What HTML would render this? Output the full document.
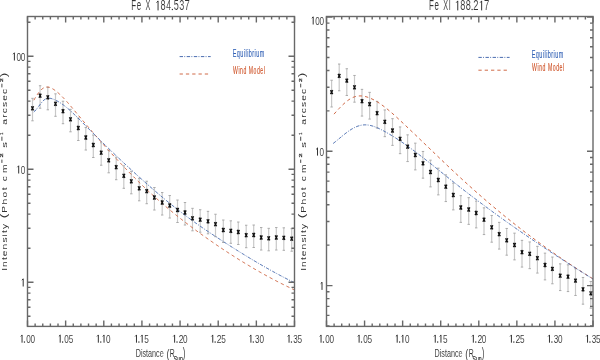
<!DOCTYPE html>
<html><head><meta charset="utf-8"><style>
html,body{margin:0;padding:0;background:#fff;}
svg{display:block;will-change:transform;}
text{font-family:"Liberation Sans",sans-serif;fill:#333;font-kerning:none;}
.xl{stroke:#fff;stroke-width:0.05px;}
.tt{stroke:#fff;stroke-width:0.1px;}
.tl{stroke:#fff;stroke-width:0.08px;}
.lg{stroke-width:0.15px;}
.yls{stroke:#333;stroke-width:0.25px;}
</style></head><body>
<svg width="600" height="360" viewBox="0 0 600 360" xmlns="http://www.w3.org/2000/svg">
<rect width="600" height="360" fill="#fff"/>
<path d="M32.50,98.34 V120.81" stroke="#c8c8c8" stroke-width="1.2" fill="none"/>
<path d="M31.30,98.34 h2.4 M31.30,120.81 h2.4" stroke="#aaaaaa" stroke-width="1" fill="none"/>
<path d="M40.10,85.74 V108.21" stroke="#c8c8c8" stroke-width="1.2" fill="none"/>
<path d="M38.90,85.74 h2.4 M38.90,108.21 h2.4" stroke="#aaaaaa" stroke-width="1" fill="none"/>
<path d="M47.80,87.34 V109.81" stroke="#c8c8c8" stroke-width="1.2" fill="none"/>
<path d="M46.60,87.34 h2.4 M46.60,109.81 h2.4" stroke="#aaaaaa" stroke-width="1" fill="none"/>
<path d="M55.50,93.84 V116.31" stroke="#c8c8c8" stroke-width="1.2" fill="none"/>
<path d="M54.30,93.84 h2.4 M54.30,116.31 h2.4" stroke="#aaaaaa" stroke-width="1" fill="none"/>
<path d="M63.00,101.24 V123.71" stroke="#c8c8c8" stroke-width="1.2" fill="none"/>
<path d="M61.80,101.24 h2.4 M61.80,123.71 h2.4" stroke="#aaaaaa" stroke-width="1" fill="none"/>
<path d="M70.50,109.34 V131.81" stroke="#c8c8c8" stroke-width="1.2" fill="none"/>
<path d="M69.30,109.34 h2.4 M69.30,131.81 h2.4" stroke="#aaaaaa" stroke-width="1" fill="none"/>
<path d="M78.30,118.04 V140.51" stroke="#c8c8c8" stroke-width="1.2" fill="none"/>
<path d="M77.10,118.04 h2.4 M77.10,140.51 h2.4" stroke="#aaaaaa" stroke-width="1" fill="none"/>
<path d="M85.80,127.54 V150.01" stroke="#c8c8c8" stroke-width="1.2" fill="none"/>
<path d="M84.60,127.54 h2.4 M84.60,150.01 h2.4" stroke="#aaaaaa" stroke-width="1" fill="none"/>
<path d="M93.30,135.04 V157.51" stroke="#c8c8c8" stroke-width="1.2" fill="none"/>
<path d="M92.10,135.04 h2.4 M92.10,157.51 h2.4" stroke="#aaaaaa" stroke-width="1" fill="none"/>
<path d="M101.20,142.74 V165.21" stroke="#c8c8c8" stroke-width="1.2" fill="none"/>
<path d="M100.00,142.74 h2.4 M100.00,165.21 h2.4" stroke="#aaaaaa" stroke-width="1" fill="none"/>
<path d="M108.70,150.34 V172.81" stroke="#c8c8c8" stroke-width="1.2" fill="none"/>
<path d="M107.50,150.34 h2.4 M107.50,172.81 h2.4" stroke="#aaaaaa" stroke-width="1" fill="none"/>
<path d="M116.20,157.24 V179.71" stroke="#c8c8c8" stroke-width="1.2" fill="none"/>
<path d="M115.00,157.24 h2.4 M115.00,179.71 h2.4" stroke="#aaaaaa" stroke-width="1" fill="none"/>
<path d="M123.80,165.84 V188.31" stroke="#c8c8c8" stroke-width="1.2" fill="none"/>
<path d="M122.60,165.84 h2.4 M122.60,188.31 h2.4" stroke="#aaaaaa" stroke-width="1" fill="none"/>
<path d="M131.30,171.34 V193.81" stroke="#c8c8c8" stroke-width="1.2" fill="none"/>
<path d="M130.10,171.34 h2.4 M130.10,193.81 h2.4" stroke="#aaaaaa" stroke-width="1" fill="none"/>
<path d="M139.20,178.34 V200.81" stroke="#c8c8c8" stroke-width="1.2" fill="none"/>
<path d="M138.00,178.34 h2.4 M138.00,200.81 h2.4" stroke="#aaaaaa" stroke-width="1" fill="none"/>
<path d="M146.70,181.24 V203.71" stroke="#c8c8c8" stroke-width="1.2" fill="none"/>
<path d="M145.50,181.24 h2.4 M145.50,203.71 h2.4" stroke="#aaaaaa" stroke-width="1" fill="none"/>
<path d="M154.40,187.54 V210.01" stroke="#c8c8c8" stroke-width="1.2" fill="none"/>
<path d="M153.20,187.54 h2.4 M153.20,210.01 h2.4" stroke="#aaaaaa" stroke-width="1" fill="none"/>
<path d="M162.20,192.54 V215.01" stroke="#c8c8c8" stroke-width="1.2" fill="none"/>
<path d="M161.00,192.54 h2.4 M161.00,215.01 h2.4" stroke="#aaaaaa" stroke-width="1" fill="none"/>
<path d="M169.70,195.54 V218.01" stroke="#c8c8c8" stroke-width="1.2" fill="none"/>
<path d="M168.50,195.54 h2.4 M168.50,218.01 h2.4" stroke="#aaaaaa" stroke-width="1" fill="none"/>
<path d="M177.50,200.04 V222.51" stroke="#c8c8c8" stroke-width="1.2" fill="none"/>
<path d="M176.30,200.04 h2.4 M176.30,222.51 h2.4" stroke="#aaaaaa" stroke-width="1" fill="none"/>
<path d="M185.00,202.54 V225.01" stroke="#c8c8c8" stroke-width="1.2" fill="none"/>
<path d="M183.80,202.54 h2.4 M183.80,225.01 h2.4" stroke="#aaaaaa" stroke-width="1" fill="none"/>
<path d="M192.50,208.34 V230.81" stroke="#c8c8c8" stroke-width="1.2" fill="none"/>
<path d="M191.30,208.34 h2.4 M191.30,230.81 h2.4" stroke="#aaaaaa" stroke-width="1" fill="none"/>
<path d="M200.20,209.74 V232.21" stroke="#c8c8c8" stroke-width="1.2" fill="none"/>
<path d="M199.00,209.74 h2.4 M199.00,232.21 h2.4" stroke="#aaaaaa" stroke-width="1" fill="none"/>
<path d="M208.00,211.34 V233.81" stroke="#c8c8c8" stroke-width="1.2" fill="none"/>
<path d="M206.80,211.34 h2.4 M206.80,233.81 h2.4" stroke="#aaaaaa" stroke-width="1" fill="none"/>
<path d="M215.50,214.24 V236.71" stroke="#c8c8c8" stroke-width="1.2" fill="none"/>
<path d="M214.30,214.24 h2.4 M214.30,236.71 h2.4" stroke="#aaaaaa" stroke-width="1" fill="none"/>
<path d="M223.30,220.04 V242.51" stroke="#c8c8c8" stroke-width="1.2" fill="none"/>
<path d="M222.10,220.04 h2.4 M222.10,242.51 h2.4" stroke="#aaaaaa" stroke-width="1" fill="none"/>
<path d="M230.80,220.84 V243.31" stroke="#c8c8c8" stroke-width="1.2" fill="none"/>
<path d="M229.60,220.84 h2.4 M229.60,243.31 h2.4" stroke="#aaaaaa" stroke-width="1" fill="none"/>
<path d="M238.30,222.04 V244.51" stroke="#c8c8c8" stroke-width="1.2" fill="none"/>
<path d="M237.10,222.04 h2.4 M237.10,244.51 h2.4" stroke="#aaaaaa" stroke-width="1" fill="none"/>
<path d="M246.20,225.24 V247.71" stroke="#c8c8c8" stroke-width="1.2" fill="none"/>
<path d="M245.00,225.24 h2.4 M245.00,247.71 h2.4" stroke="#aaaaaa" stroke-width="1" fill="none"/>
<path d="M253.70,225.04 V247.51" stroke="#c8c8c8" stroke-width="1.2" fill="none"/>
<path d="M252.50,225.04 h2.4 M252.50,247.51 h2.4" stroke="#aaaaaa" stroke-width="1" fill="none"/>
<path d="M261.20,227.54 V250.01" stroke="#c8c8c8" stroke-width="1.2" fill="none"/>
<path d="M260.00,227.54 h2.4 M260.00,250.01 h2.4" stroke="#aaaaaa" stroke-width="1" fill="none"/>
<path d="M268.70,228.34 V250.81" stroke="#c8c8c8" stroke-width="1.2" fill="none"/>
<path d="M267.50,228.34 h2.4 M267.50,250.81 h2.4" stroke="#aaaaaa" stroke-width="1" fill="none"/>
<path d="M276.30,227.54 V250.01" stroke="#c8c8c8" stroke-width="1.2" fill="none"/>
<path d="M275.10,227.54 h2.4 M275.10,250.01 h2.4" stroke="#aaaaaa" stroke-width="1" fill="none"/>
<path d="M283.80,227.84 V250.31" stroke="#c8c8c8" stroke-width="1.2" fill="none"/>
<path d="M282.60,227.84 h2.4 M282.60,250.31 h2.4" stroke="#aaaaaa" stroke-width="1" fill="none"/>
<path d="M291.70,228.74 V251.21" stroke="#c8c8c8" stroke-width="1.2" fill="none"/>
<path d="M290.50,228.74 h2.4 M290.50,251.21 h2.4" stroke="#aaaaaa" stroke-width="1" fill="none"/>
<path d="M33.80,100.24 L34.80,98.49 L35.80,96.83 L36.80,95.27 L37.80,93.82 L38.80,92.48 L39.80,91.26 L40.80,90.18 L41.80,89.24 L42.80,88.45 L43.80,87.82 L44.80,87.36 L45.80,87.08 L46.80,86.96 L47.80,86.99 L48.80,87.16 L49.80,87.45 L50.80,87.85 L51.80,88.34 L52.80,88.91 L53.80,89.54 L54.80,90.22 L55.80,90.96 L56.80,91.74 L57.80,92.57 L58.80,93.43 L59.80,94.34 L60.80,95.29 L61.80,96.27 L62.80,97.28 L63.80,98.32 L64.80,99.39 L65.80,100.48 L66.80,101.60 L67.80,102.73 L68.80,103.88 L69.80,105.05 L70.80,106.23 L71.80,107.42 L72.80,108.62 L73.80,109.82 L74.80,111.03 L75.80,112.23 L76.80,113.44 L77.80,114.64 L78.80,115.84 L79.80,117.03 L80.80,118.23 L81.80,119.42 L82.80,120.61 L83.80,121.80 L84.80,122.98 L85.80,124.16 L86.80,125.34 L87.80,126.52 L88.80,127.69 L89.80,128.87 L90.80,130.03 L91.80,131.20 L92.80,132.36 L93.80,133.52 L94.80,134.68 L95.80,135.83 L96.80,136.98 L97.80,138.13 L98.80,139.28 L99.80,140.42 L100.80,141.56 L101.80,142.69 L102.80,143.82 L103.80,144.95 L104.80,146.08 L105.80,147.20 L106.80,148.32 L107.80,149.43 L108.80,150.54 L109.80,151.65 L110.80,152.75 L111.80,153.85 L112.80,154.95 L113.80,156.04 L114.80,157.13 L115.80,158.21 L116.80,159.29 L117.80,160.37 L118.80,161.44 L119.80,162.51 L120.80,163.57 L121.80,164.63 L122.80,165.69 L123.80,166.74 L124.80,167.78 L125.80,168.83 L126.80,169.87 L127.80,170.90 L128.80,171.93 L129.80,172.95 L130.80,173.97 L131.80,174.99 L132.80,176.00 L133.80,177.00 L134.80,178.01 L135.80,179.00 L136.80,179.99 L137.80,180.98 L138.80,181.96 L139.80,182.94 L140.80,183.91 L141.80,184.88 L142.80,185.84 L143.80,186.79 L144.80,187.74 L145.80,188.69 L146.80,189.63 L147.80,190.57 L148.80,191.50 L149.80,192.42 L150.80,193.34 L151.80,194.26 L152.80,195.17 L153.80,196.07 L154.80,196.97 L155.80,197.87 L156.80,198.76 L157.80,199.65 L158.80,200.53 L159.80,201.41 L160.80,202.28 L161.80,203.15 L162.80,204.01 L163.80,204.87 L164.80,205.73 L165.80,206.58 L166.80,207.42 L167.80,208.26 L168.80,209.10 L169.80,209.93 L170.80,210.76 L171.80,211.59 L172.80,212.41 L173.80,213.23 L174.80,214.04 L175.80,214.85 L176.80,215.65 L177.80,216.45 L178.80,217.25 L179.80,218.04 L180.80,218.83 L181.80,219.62 L182.80,220.40 L183.80,221.18 L184.80,221.96 L185.80,222.73 L186.80,223.50 L187.80,224.26 L188.80,225.02 L189.80,225.78 L190.80,226.53 L191.80,227.28 L192.80,228.03 L193.80,228.78 L194.80,229.52 L195.80,230.26 L196.80,230.99 L197.80,231.72 L198.80,232.45 L199.80,233.18 L200.80,233.90 L201.80,234.62 L202.80,235.34 L203.80,236.05 L204.80,236.77 L205.80,237.48 L206.80,238.18 L207.80,238.89 L208.80,239.59 L209.80,240.29 L210.80,240.98 L211.80,241.68 L212.80,242.37 L213.80,243.06 L214.80,243.74 L215.80,244.43 L216.80,245.11 L217.80,245.79 L218.80,246.46 L219.80,247.14 L220.80,247.81 L221.80,248.48 L222.80,249.15 L223.80,249.81 L224.80,250.47 L225.80,251.13 L226.80,251.79 L227.80,252.44 L228.80,253.09 L229.80,253.74 L230.80,254.39 L231.80,255.03 L232.80,255.68 L233.80,256.31 L234.80,256.95 L235.80,257.58 L236.80,258.22 L237.80,258.84 L238.80,259.47 L239.80,260.09 L240.80,260.71 L241.80,261.33 L242.80,261.95 L243.80,262.56 L244.80,263.17 L245.80,263.78 L246.80,264.38 L247.80,264.98 L248.80,265.58 L249.80,266.18 L250.80,266.77 L251.80,267.37 L252.80,267.95 L253.80,268.54 L254.80,269.12 L255.80,269.70 L256.80,270.28 L257.80,270.85 L258.80,271.43 L259.80,271.99 L260.80,272.56 L261.80,273.12 L262.80,273.68 L263.80,274.24 L264.80,274.80 L265.80,275.35 L266.80,275.90 L267.80,276.44 L268.80,276.99 L269.80,277.53 L270.80,278.06 L271.80,278.60 L272.80,279.13 L273.80,279.66 L274.80,280.18 L275.80,280.71 L276.80,281.23 L277.80,281.74 L278.80,282.26 L279.80,282.77 L280.80,283.27 L281.80,283.78 L282.80,284.28 L283.80,284.78 L284.80,285.28 L285.80,285.77 L286.80,286.26 L287.80,286.74 L288.80,287.23 L289.80,287.71 L290.80,288.19 L291.80,288.66 L292.80,289.13 L293.80,289.60 L294.40,289.88" fill="none" stroke="#d06a48" stroke-width="1.0" stroke-dasharray="3.3 3.0"/>
<path d="M33.80,111.97 L34.80,111.05 L35.80,109.98 L36.80,108.78 L37.80,107.50 L38.80,106.18 L39.80,104.85 L40.80,103.55 L41.80,102.33 L42.80,101.21 L43.80,100.23 L44.80,99.44 L45.80,98.85 L46.80,98.46 L47.80,98.24 L48.80,98.18 L49.80,98.24 L50.80,98.42 L51.80,98.68 L52.80,99.02 L53.80,99.40 L54.80,99.82 L55.80,100.29 L56.80,100.79 L57.80,101.33 L58.80,101.91 L59.80,102.52 L60.80,103.17 L61.80,103.85 L62.80,104.55 L63.80,105.29 L64.80,106.06 L65.80,106.85 L66.80,107.66 L67.80,108.50 L68.80,109.36 L69.80,110.24 L70.80,111.14 L71.80,112.06 L72.80,112.99 L73.80,113.94 L74.80,114.90 L75.80,115.87 L76.80,116.85 L77.80,117.85 L78.80,118.84 L79.80,119.85 L80.80,120.86 L81.80,121.87 L82.80,122.88 L83.80,123.89 L84.80,124.90 L85.80,125.91 L86.80,126.92 L87.80,127.93 L88.80,128.93 L89.80,129.93 L90.80,130.93 L91.80,131.93 L92.80,132.93 L93.80,133.93 L94.80,134.92 L95.80,135.91 L96.80,136.90 L97.80,137.89 L98.80,138.88 L99.80,139.87 L100.80,140.85 L101.80,141.83 L102.80,142.81 L103.80,143.79 L104.80,144.76 L105.80,145.74 L106.80,146.71 L107.80,147.68 L108.80,148.65 L109.80,149.61 L110.80,150.58 L111.80,151.54 L112.80,152.50 L113.80,153.46 L114.80,154.41 L115.80,155.37 L116.80,156.32 L117.80,157.27 L118.80,158.21 L119.80,159.16 L120.80,160.10 L121.80,161.04 L122.80,161.98 L123.80,162.92 L124.80,163.85 L125.80,164.79 L126.80,165.72 L127.80,166.64 L128.80,167.57 L129.80,168.49 L130.80,169.41 L131.80,170.33 L132.80,171.25 L133.80,172.16 L134.80,173.07 L135.80,173.98 L136.80,174.89 L137.80,175.80 L138.80,176.70 L139.80,177.60 L140.80,178.49 L141.80,179.39 L142.80,180.28 L143.80,181.17 L144.80,182.06 L145.80,182.94 L146.80,183.83 L147.80,184.71 L148.80,185.58 L149.80,186.46 L150.80,187.33 L151.80,188.20 L152.80,189.07 L153.80,189.93 L154.80,190.79 L155.80,191.65 L156.80,192.51 L157.80,193.36 L158.80,194.21 L159.80,195.06 L160.80,195.90 L161.80,196.74 L162.80,197.58 L163.80,198.42 L164.80,199.25 L165.80,200.08 L166.80,200.90 L167.80,201.72 L168.80,202.54 L169.80,203.35 L170.80,204.16 L171.80,204.97 L172.80,205.77 L173.80,206.57 L174.80,207.37 L175.80,208.16 L176.80,208.94 L177.80,209.73 L178.80,210.51 L179.80,211.28 L180.80,212.05 L181.80,212.82 L182.80,213.58 L183.80,214.33 L184.80,215.09 L185.80,215.83 L186.80,216.58 L187.80,217.32 L188.80,218.05 L189.80,218.78 L190.80,219.51 L191.80,220.23 L192.80,220.95 L193.80,221.67 L194.80,222.38 L195.80,223.09 L196.80,223.79 L197.80,224.50 L198.80,225.20 L199.80,225.89 L200.80,226.58 L201.80,227.27 L202.80,227.96 L203.80,228.64 L204.80,229.32 L205.80,230.00 L206.80,230.68 L207.80,231.35 L208.80,232.03 L209.80,232.69 L210.80,233.36 L211.80,234.03 L212.80,234.69 L213.80,235.35 L214.80,236.01 L215.80,236.67 L216.80,237.32 L217.80,237.98 L218.80,238.63 L219.80,239.28 L220.80,239.93 L221.80,240.58 L222.80,241.23 L223.80,241.88 L224.80,242.52 L225.80,243.17 L226.80,243.81 L227.80,244.45 L228.80,245.09 L229.80,245.73 L230.80,246.36 L231.80,247.00 L232.80,247.63 L233.80,248.27 L234.80,248.90 L235.80,249.53 L236.80,250.15 L237.80,250.78 L238.80,251.40 L239.80,252.02 L240.80,252.64 L241.80,253.26 L242.80,253.88 L243.80,254.49 L244.80,255.11 L245.80,255.72 L246.80,256.33 L247.80,256.94 L248.80,257.54 L249.80,258.15 L250.80,258.75 L251.80,259.35 L252.80,259.94 L253.80,260.54 L254.80,261.13 L255.80,261.72 L256.80,262.31 L257.80,262.90 L258.80,263.49 L259.80,264.07 L260.80,264.65 L261.80,265.23 L262.80,265.80 L263.80,266.38 L264.80,266.95 L265.80,267.52 L266.80,268.08 L267.80,268.65 L268.80,269.21 L269.80,269.77 L270.80,270.33 L271.80,270.88 L272.80,271.43 L273.80,271.98 L274.80,272.53 L275.80,273.07 L276.80,273.61 L277.80,274.15 L278.80,274.69 L279.80,275.22 L280.80,275.75 L281.80,276.28 L282.80,276.81 L283.80,277.33 L284.80,277.85 L285.80,278.37 L286.80,278.88 L287.80,279.39 L288.80,279.90 L289.80,280.40 L290.80,280.91 L291.80,281.41 L292.80,281.90 L293.80,282.39 L294.40,282.69" fill="none" stroke="#4a6db0" stroke-width="1.0" stroke-dasharray="3.4 1.3 0.9 1.5"/>
<path d="M31.40,106.25 L33.60,110.35 M33.60,106.25 L31.40,110.35" stroke="#111" stroke-width="1.4" fill="none"/>
<path d="M39.00,93.65 L41.20,97.75 M41.20,93.65 L39.00,97.75" stroke="#111" stroke-width="1.4" fill="none"/>
<path d="M46.70,95.25 L48.90,99.35 M48.90,95.25 L46.70,99.35" stroke="#111" stroke-width="1.4" fill="none"/>
<path d="M54.40,101.75 L56.60,105.85 M56.60,101.75 L54.40,105.85" stroke="#111" stroke-width="1.4" fill="none"/>
<path d="M61.90,109.15 L64.10,113.25 M64.10,109.15 L61.90,113.25" stroke="#111" stroke-width="1.4" fill="none"/>
<path d="M69.40,117.25 L71.60,121.35 M71.60,117.25 L69.40,121.35" stroke="#111" stroke-width="1.4" fill="none"/>
<path d="M77.20,125.95 L79.40,130.05 M79.40,125.95 L77.20,130.05" stroke="#111" stroke-width="1.4" fill="none"/>
<path d="M84.70,135.45 L86.90,139.55 M86.90,135.45 L84.70,139.55" stroke="#111" stroke-width="1.4" fill="none"/>
<path d="M92.20,142.95 L94.40,147.05 M94.40,142.95 L92.20,147.05" stroke="#111" stroke-width="1.4" fill="none"/>
<path d="M100.10,150.65 L102.30,154.75 M102.30,150.65 L100.10,154.75" stroke="#111" stroke-width="1.4" fill="none"/>
<path d="M107.60,158.25 L109.80,162.35 M109.80,158.25 L107.60,162.35" stroke="#111" stroke-width="1.4" fill="none"/>
<path d="M115.10,165.15 L117.30,169.25 M117.30,165.15 L115.10,169.25" stroke="#111" stroke-width="1.4" fill="none"/>
<path d="M122.70,173.75 L124.90,177.85 M124.90,173.75 L122.70,177.85" stroke="#111" stroke-width="1.4" fill="none"/>
<path d="M130.20,179.25 L132.40,183.35 M132.40,179.25 L130.20,183.35" stroke="#111" stroke-width="1.4" fill="none"/>
<path d="M138.10,186.25 L140.30,190.35 M140.30,186.25 L138.10,190.35" stroke="#111" stroke-width="1.4" fill="none"/>
<path d="M145.60,189.15 L147.80,193.25 M147.80,189.15 L145.60,193.25" stroke="#111" stroke-width="1.4" fill="none"/>
<path d="M153.30,195.45 L155.50,199.55 M155.50,195.45 L153.30,199.55" stroke="#111" stroke-width="1.4" fill="none"/>
<path d="M161.10,200.45 L163.30,204.55 M163.30,200.45 L161.10,204.55" stroke="#111" stroke-width="1.4" fill="none"/>
<path d="M168.60,203.45 L170.80,207.55 M170.80,203.45 L168.60,207.55" stroke="#111" stroke-width="1.4" fill="none"/>
<path d="M176.40,207.95 L178.60,212.05 M178.60,207.95 L176.40,212.05" stroke="#111" stroke-width="1.4" fill="none"/>
<path d="M183.90,210.45 L186.10,214.55 M186.10,210.45 L183.90,214.55" stroke="#111" stroke-width="1.4" fill="none"/>
<path d="M191.40,216.25 L193.60,220.35 M193.60,216.25 L191.40,220.35" stroke="#111" stroke-width="1.4" fill="none"/>
<path d="M199.10,217.65 L201.30,221.75 M201.30,217.65 L199.10,221.75" stroke="#111" stroke-width="1.4" fill="none"/>
<path d="M206.90,219.25 L209.10,223.35 M209.10,219.25 L206.90,223.35" stroke="#111" stroke-width="1.4" fill="none"/>
<path d="M214.40,222.15 L216.60,226.25 M216.60,222.15 L214.40,226.25" stroke="#111" stroke-width="1.4" fill="none"/>
<path d="M222.20,227.95 L224.40,232.05 M224.40,227.95 L222.20,232.05" stroke="#111" stroke-width="1.4" fill="none"/>
<path d="M229.70,228.75 L231.90,232.85 M231.90,228.75 L229.70,232.85" stroke="#111" stroke-width="1.4" fill="none"/>
<path d="M237.20,229.95 L239.40,234.05 M239.40,229.95 L237.20,234.05" stroke="#111" stroke-width="1.4" fill="none"/>
<path d="M245.10,233.15 L247.30,237.25 M247.30,233.15 L245.10,237.25" stroke="#111" stroke-width="1.4" fill="none"/>
<path d="M252.60,232.95 L254.80,237.05 M254.80,232.95 L252.60,237.05" stroke="#111" stroke-width="1.4" fill="none"/>
<path d="M260.10,235.45 L262.30,239.55 M262.30,235.45 L260.10,239.55" stroke="#111" stroke-width="1.4" fill="none"/>
<path d="M267.60,236.25 L269.80,240.35 M269.80,236.25 L267.60,240.35" stroke="#111" stroke-width="1.4" fill="none"/>
<path d="M275.20,235.45 L277.40,239.55 M277.40,235.45 L275.20,239.55" stroke="#111" stroke-width="1.4" fill="none"/>
<path d="M282.70,235.75 L284.90,239.85 M284.90,235.75 L282.70,239.85" stroke="#111" stroke-width="1.4" fill="none"/>
<path d="M290.60,236.65 L292.80,240.75 M292.80,236.65 L290.60,240.75" stroke="#111" stroke-width="1.4" fill="none"/>
<rect x="27.5" y="16.5" width="267.0" height="309.9" fill="none" stroke="#686868" stroke-width="1.4"/>
<path d="M27.50,326.4 v-6 M27.50,16.5 v6 M35.13,326.4 v-3 M35.13,16.5 v3 M42.76,326.4 v-3 M42.76,16.5 v3 M50.39,326.4 v-3 M50.39,16.5 v3 M58.01,326.4 v-3 M58.01,16.5 v3 M65.64,326.4 v-6 M65.64,16.5 v6 M73.27,326.4 v-3 M73.27,16.5 v3 M80.90,326.4 v-3 M80.90,16.5 v3 M88.53,326.4 v-3 M88.53,16.5 v3 M96.16,326.4 v-3 M96.16,16.5 v3 M103.79,326.4 v-6 M103.79,16.5 v6 M111.41,326.4 v-3 M111.41,16.5 v3 M119.04,326.4 v-3 M119.04,16.5 v3 M126.67,326.4 v-3 M126.67,16.5 v3 M134.30,326.4 v-3 M134.30,16.5 v3 M141.93,326.4 v-6 M141.93,16.5 v6 M149.56,326.4 v-3 M149.56,16.5 v3 M157.19,326.4 v-3 M157.19,16.5 v3 M164.81,326.4 v-3 M164.81,16.5 v3 M172.44,326.4 v-3 M172.44,16.5 v3 M180.07,326.4 v-6 M180.07,16.5 v6 M187.70,326.4 v-3 M187.70,16.5 v3 M195.33,326.4 v-3 M195.33,16.5 v3 M202.96,326.4 v-3 M202.96,16.5 v3 M210.59,326.4 v-3 M210.59,16.5 v3 M218.21,326.4 v-6 M218.21,16.5 v6 M225.84,326.4 v-3 M225.84,16.5 v3 M233.47,326.4 v-3 M233.47,16.5 v3 M241.10,326.4 v-3 M241.10,16.5 v3 M248.73,326.4 v-3 M248.73,16.5 v3 M256.36,326.4 v-6 M256.36,16.5 v6 M263.99,326.4 v-3 M263.99,16.5 v3 M271.61,326.4 v-3 M271.61,16.5 v3 M279.24,326.4 v-3 M279.24,16.5 v3 M286.87,326.4 v-3 M286.87,16.5 v3 M294.50,326.4 v-6 M294.50,16.5 v6 M27.5,316.22 h3 M294.5,316.22 h-3 M27.5,307.27 h3 M294.5,307.27 h-3 M27.5,299.70 h3 M294.5,299.70 h-3 M27.5,293.15 h3 M294.5,293.15 h-3 M27.5,287.37 h3 M294.5,287.37 h-3 M27.5,282.20 h6 M294.5,282.20 h-6 M27.5,248.18 h3 M294.5,248.18 h-3 M27.5,228.29 h3 M294.5,228.29 h-3 M27.5,214.17 h3 M294.5,214.17 h-3 M27.5,203.22 h3 M294.5,203.22 h-3 M27.5,194.27 h3 M294.5,194.27 h-3 M27.5,186.70 h3 M294.5,186.70 h-3 M27.5,180.15 h3 M294.5,180.15 h-3 M27.5,174.37 h3 M294.5,174.37 h-3 M27.5,169.20 h6 M294.5,169.20 h-6 M27.5,135.18 h3 M294.5,135.18 h-3 M27.5,115.29 h3 M294.5,115.29 h-3 M27.5,101.17 h3 M294.5,101.17 h-3 M27.5,90.22 h3 M294.5,90.22 h-3 M27.5,81.27 h3 M294.5,81.27 h-3 M27.5,73.70 h3 M294.5,73.70 h-3 M27.5,67.15 h3 M294.5,67.15 h-3 M27.5,61.37 h3 M294.5,61.37 h-3 M27.5,56.20 h6 M294.5,56.20 h-6 M27.5,22.18 h3 M294.5,22.18 h-3" stroke="#686868" stroke-width="1.4" fill="none"/>
<path d="M22.05,334.90 V342.70 M22.05,335.10 L20.75,336.40" stroke="#333" stroke-width="1.0" fill="none"/><rect x="23.85" y="341.40" width="1.2" height="1.3" fill="#333"/><text transform="translate(26.23,342.70) scale(0.7301,1)" class="tl" style="font-size:11.175px;">0</text><text transform="translate(30.53,342.70) scale(0.7301,1)" class="tl" style="font-size:11.175px;">0</text>
<path d="M60.19,334.90 V342.70 M60.19,335.10 L58.89,336.40" stroke="#333" stroke-width="1.0" fill="none"/><rect x="61.99" y="341.40" width="1.2" height="1.3" fill="#333"/><text transform="translate(64.37,342.70) scale(0.7301,1)" class="tl" style="font-size:11.175px;">0</text><text transform="translate(68.66,342.70) scale(0.7361,1)" class="tl" style="font-size:11.175px;">5</text>
<path d="M98.34,334.90 V342.70 M98.34,335.10 L97.04,336.40" stroke="#333" stroke-width="1.0" fill="none"/><rect x="100.14" y="341.40" width="1.2" height="1.3" fill="#333"/><path d="M104.04,334.90 V342.70 M104.04,335.10 L102.74,336.40" stroke="#333" stroke-width="1.0" fill="none"/><text transform="translate(106.12,342.70) scale(0.7301,1)" class="tl" style="font-size:11.175px;">0</text>
<path d="M136.48,334.90 V342.70 M136.48,335.10 L135.18,336.40" stroke="#333" stroke-width="1.0" fill="none"/><rect x="138.28" y="341.40" width="1.2" height="1.3" fill="#333"/><path d="M142.18,334.90 V342.70 M142.18,335.10 L140.88,336.40" stroke="#333" stroke-width="1.0" fill="none"/><text transform="translate(144.25,342.70) scale(0.7361,1)" class="tl" style="font-size:11.175px;">5</text>
<path d="M174.62,334.90 V342.70 M174.62,335.10 L173.32,336.40" stroke="#333" stroke-width="1.0" fill="none"/><rect x="176.42" y="341.40" width="1.2" height="1.3" fill="#333"/><text transform="translate(178.69,342.70) scale(0.7661,1)" class="tl" style="font-size:11.175px;">2</text><text transform="translate(183.10,342.70) scale(0.7301,1)" class="tl" style="font-size:11.175px;">0</text>
<path d="M212.76,334.90 V342.70 M212.76,335.10 L211.46,336.40" stroke="#333" stroke-width="1.0" fill="none"/><rect x="214.56" y="341.40" width="1.2" height="1.3" fill="#333"/><text transform="translate(216.83,342.70) scale(0.7661,1)" class="tl" style="font-size:11.175px;">2</text><text transform="translate(221.23,342.70) scale(0.7361,1)" class="tl" style="font-size:11.175px;">5</text>
<path d="M250.91,334.90 V342.70 M250.91,335.10 L249.61,336.40" stroke="#333" stroke-width="1.0" fill="none"/><rect x="252.71" y="341.40" width="1.2" height="1.3" fill="#333"/><text transform="translate(255.09,342.70) scale(0.7361,1)" class="tl" style="font-size:11.175px;">3</text><text transform="translate(259.39,342.70) scale(0.7301,1)" class="tl" style="font-size:11.175px;">0</text>
<path d="M289.05,334.90 V342.70 M289.05,335.10 L287.75,336.40" stroke="#333" stroke-width="1.0" fill="none"/><rect x="290.85" y="341.40" width="1.2" height="1.3" fill="#333"/><text transform="translate(293.24,342.70) scale(0.7361,1)" class="tl" style="font-size:11.175px;">3</text><text transform="translate(297.52,342.70) scale(0.7361,1)" class="tl" style="font-size:11.175px;">5</text>
<path d="M23.20,278.70 V286.50 M23.20,278.90 L21.90,280.20" stroke="#333" stroke-width="1.0" fill="none"/>
<path d="M18.70,165.70 V173.50 M18.70,165.90 L17.40,167.20" stroke="#333" stroke-width="1.0" fill="none"/><text transform="translate(20.78,173.50) scale(0.7301,1)" class="tl" style="font-size:11.175px;">0</text>
<path d="M14.40,52.70 V60.50 M14.40,52.90 L13.10,54.20" stroke="#333" stroke-width="1.0" fill="none"/><text transform="translate(16.48,60.50) scale(0.7301,1)" class="tl" style="font-size:11.175px;">0</text><text transform="translate(20.78,60.50) scale(0.7301,1)" class="tl" style="font-size:11.175px;">0</text>
<text transform="translate(131.25,10.40) scale(0.5703,1)" class="tt" style="font-size:13.953px;letter-spacing:1.263px;">Fe</text>
<text transform="translate(145.59,10.40) scale(0.5230,1)" class="tt" style="font-size:13.953px;">X</text>
<path d="M158.05,0.80 V10.40 M158.05,1.00 L156.55,2.60" stroke="#333" stroke-width="1.0" fill="none"/><text transform="translate(160.60,10.40) scale(0.6663,1)" class="tt" style="font-size:13.754px;">8</text><text transform="translate(166.20,10.40) scale(0.6204,1)" class="tt" style="font-size:13.754px;">4</text><rect x="171.80" y="8.90" width="1.2" height="1.2" fill="#333"/><text transform="translate(173.74,10.40) scale(0.6594,1)" class="tt" style="font-size:13.754px;">5</text><text transform="translate(179.15,10.40) scale(0.6594,1)" class="tt" style="font-size:13.754px;">3</text><text transform="translate(184.42,10.40) scale(0.6878,1)" class="tt" style="font-size:13.754px;">7</text>
<text transform="translate(135.71,356.60) scale(0.6270,1)" class="xl" style="font-size:11.483px;">Distance</text>
<text transform="translate(166.54,357.60) scale(0.6604,1)" class="xl" style="font-size:13.706px;">(</text>
<text transform="translate(169.83,356.60) scale(0.6014,1)" class="xl" style="font-size:11.483px;">R</text>
<text transform="translate(173.77,362.00) scale(0.5214,1)" class="yls" style="font-size:9.884px;">Sun</text>
<text transform="translate(182.85,357.60) scale(0.5779,1)" class="xl" style="font-size:13.706px;">)</text>
<line x1="179.6" y1="56.6" x2="210.7" y2="56.6" stroke="#4a6db0" stroke-width="1.0" stroke-dasharray="3.4 1.3 0.9 1.5"/>
<line x1="179.6" y1="74.0" x2="208.4" y2="74.0" stroke="#d06a48" stroke-width="1.0" stroke-dasharray="3.3 3.0"/>
<text transform="translate(232.65,57.30) scale(0.5230,1)" class="lg" style="font-size:10.465px;fill:#2f5fb5;stroke:#2f5fb5;letter-spacing:0.886px;">Equilibrium</text>
<text transform="translate(233.08,73.90) scale(0.5036,1)" class="lg" style="font-size:10.174px;fill:#cf5429;stroke:#cf5429;letter-spacing:1.039px;">Wind Model</text>
<line x1="1.90" y1="162.90" x2="1.90" y2="159.60" stroke="#333" stroke-width="0.9"/>
<line x1="1.90" y1="140.80" x2="1.90" y2="136.70" stroke="#333" stroke-width="0.9"/>
<line x1="1.90" y1="87.40" x2="1.90" y2="83.70" stroke="#333" stroke-width="0.9"/>
<g transform="translate(7.00,0) rotate(-90)"><text transform="translate(-270.85,0.00) scale(1.5000,1)" class="yl" style="font-size:6.831px;letter-spacing:0.734px;">Intensity</text><text transform="translate(-218.27,-0.40) scale(1.7145,1)" class="yl" style="font-size:8.140px;">(</text><text transform="translate(-212.64,0.00) scale(1.5000,1)" class="yl" style="font-size:6.831px;letter-spacing:0.919px;">Phot</text><text transform="translate(-181.24,0.00) scale(1.5000,1)" class="yl" style="font-size:6.831px;letter-spacing:2.168px;">cm</text><text transform="translate(-157.47,-3.70) scale(1.6864,1)" class="yls" style="font-size:4.360px;">2</text><text transform="translate(-147.82,0.00) scale(1.6786,1)" class="yl" style="font-size:6.831px;">s</text><text transform="translate(-134.70,-3.70) scale(0.9042,1)" class="yls" style="font-size:4.360px;">1</text><text transform="translate(-124.64,0.00) scale(1.5000,1)" class="yl" style="font-size:6.831px;letter-spacing:0.763px;">arcsec</text><text transform="translate(-81.93,-3.70) scale(1.5102,1)" class="yls" style="font-size:4.360px;">2</text><text transform="translate(-77.28,-0.40) scale(1.6681,1)" class="yl" style="font-size:8.140px;">)</text></g>
<path d="M331.60,80.26 V106.97" stroke="#c8c8c8" stroke-width="1.2" fill="none"/>
<path d="M330.40,80.26 h2.4 M330.40,106.97 h2.4" stroke="#aaaaaa" stroke-width="1" fill="none"/>
<path d="M339.20,64.06 V90.77" stroke="#c8c8c8" stroke-width="1.2" fill="none"/>
<path d="M338.00,64.06 h2.4 M338.00,90.77 h2.4" stroke="#aaaaaa" stroke-width="1" fill="none"/>
<path d="M346.80,68.76 V95.47" stroke="#c8c8c8" stroke-width="1.2" fill="none"/>
<path d="M345.60,68.76 h2.4 M345.60,95.47 h2.4" stroke="#aaaaaa" stroke-width="1" fill="none"/>
<path d="M354.50,75.46 V102.17" stroke="#c8c8c8" stroke-width="1.2" fill="none"/>
<path d="M353.30,75.46 h2.4 M353.30,102.17 h2.4" stroke="#aaaaaa" stroke-width="1" fill="none"/>
<path d="M362.00,89.36 V116.07" stroke="#c8c8c8" stroke-width="1.2" fill="none"/>
<path d="M360.80,89.36 h2.4 M360.80,116.07 h2.4" stroke="#aaaaaa" stroke-width="1" fill="none"/>
<path d="M369.60,92.36 V119.07" stroke="#c8c8c8" stroke-width="1.2" fill="none"/>
<path d="M368.40,92.36 h2.4 M368.40,119.07 h2.4" stroke="#aaaaaa" stroke-width="1" fill="none"/>
<path d="M377.10,101.36 V128.07" stroke="#c8c8c8" stroke-width="1.2" fill="none"/>
<path d="M375.90,101.36 h2.4 M375.90,128.07 h2.4" stroke="#aaaaaa" stroke-width="1" fill="none"/>
<path d="M384.80,109.96 V136.67" stroke="#c8c8c8" stroke-width="1.2" fill="none"/>
<path d="M383.60,109.96 h2.4 M383.60,136.67 h2.4" stroke="#aaaaaa" stroke-width="1" fill="none"/>
<path d="M392.50,118.66 V145.37" stroke="#c8c8c8" stroke-width="1.2" fill="none"/>
<path d="M391.30,118.66 h2.4 M391.30,145.37 h2.4" stroke="#aaaaaa" stroke-width="1" fill="none"/>
<path d="M400.10,126.96 V153.67" stroke="#c8c8c8" stroke-width="1.2" fill="none"/>
<path d="M398.90,126.96 h2.4 M398.90,153.67 h2.4" stroke="#aaaaaa" stroke-width="1" fill="none"/>
<path d="M407.60,134.86 V161.57" stroke="#c8c8c8" stroke-width="1.2" fill="none"/>
<path d="M406.40,134.86 h2.4 M406.40,161.57 h2.4" stroke="#aaaaaa" stroke-width="1" fill="none"/>
<path d="M415.30,143.16 V169.87" stroke="#c8c8c8" stroke-width="1.2" fill="none"/>
<path d="M414.10,143.16 h2.4 M414.10,169.87 h2.4" stroke="#aaaaaa" stroke-width="1" fill="none"/>
<path d="M423.00,151.46 V178.17" stroke="#c8c8c8" stroke-width="1.2" fill="none"/>
<path d="M421.80,151.46 h2.4 M421.80,178.17 h2.4" stroke="#aaaaaa" stroke-width="1" fill="none"/>
<path d="M430.50,160.16 V186.87" stroke="#c8c8c8" stroke-width="1.2" fill="none"/>
<path d="M429.30,160.16 h2.4 M429.30,186.87 h2.4" stroke="#aaaaaa" stroke-width="1" fill="none"/>
<path d="M438.30,168.16 V194.87" stroke="#c8c8c8" stroke-width="1.2" fill="none"/>
<path d="M437.10,168.16 h2.4 M437.10,194.87 h2.4" stroke="#aaaaaa" stroke-width="1" fill="none"/>
<path d="M445.80,174.86 V201.57" stroke="#c8c8c8" stroke-width="1.2" fill="none"/>
<path d="M444.60,174.86 h2.4 M444.60,201.57 h2.4" stroke="#aaaaaa" stroke-width="1" fill="none"/>
<path d="M453.30,183.16 V209.87" stroke="#c8c8c8" stroke-width="1.2" fill="none"/>
<path d="M452.10,183.16 h2.4 M452.10,209.87 h2.4" stroke="#aaaaaa" stroke-width="1" fill="none"/>
<path d="M460.80,195.66 V222.37" stroke="#c8c8c8" stroke-width="1.2" fill="none"/>
<path d="M459.60,195.66 h2.4 M459.60,222.37 h2.4" stroke="#aaaaaa" stroke-width="1" fill="none"/>
<path d="M468.70,197.66 V224.37" stroke="#c8c8c8" stroke-width="1.2" fill="none"/>
<path d="M467.50,197.66 h2.4 M467.50,224.37 h2.4" stroke="#aaaaaa" stroke-width="1" fill="none"/>
<path d="M476.20,201.16 V227.87" stroke="#c8c8c8" stroke-width="1.2" fill="none"/>
<path d="M475.00,201.16 h2.4 M475.00,227.87 h2.4" stroke="#aaaaaa" stroke-width="1" fill="none"/>
<path d="M484.00,207.86 V234.57" stroke="#c8c8c8" stroke-width="1.2" fill="none"/>
<path d="M482.80,207.86 h2.4 M482.80,234.57 h2.4" stroke="#aaaaaa" stroke-width="1" fill="none"/>
<path d="M491.70,215.46 V242.17" stroke="#c8c8c8" stroke-width="1.2" fill="none"/>
<path d="M490.50,215.46 h2.4 M490.50,242.17 h2.4" stroke="#aaaaaa" stroke-width="1" fill="none"/>
<path d="M499.20,222.36 V249.07" stroke="#c8c8c8" stroke-width="1.2" fill="none"/>
<path d="M498.00,222.36 h2.4 M498.00,249.07 h2.4" stroke="#aaaaaa" stroke-width="1" fill="none"/>
<path d="M506.70,228.46 V255.17" stroke="#c8c8c8" stroke-width="1.2" fill="none"/>
<path d="M505.50,228.46 h2.4 M505.50,255.17 h2.4" stroke="#aaaaaa" stroke-width="1" fill="none"/>
<path d="M514.50,233.16 V259.87" stroke="#c8c8c8" stroke-width="1.2" fill="none"/>
<path d="M513.30,233.16 h2.4 M513.30,259.87 h2.4" stroke="#aaaaaa" stroke-width="1" fill="none"/>
<path d="M522.00,240.36 V267.07" stroke="#c8c8c8" stroke-width="1.2" fill="none"/>
<path d="M520.80,240.36 h2.4 M520.80,267.07 h2.4" stroke="#aaaaaa" stroke-width="1" fill="none"/>
<path d="M529.70,241.96 V268.67" stroke="#c8c8c8" stroke-width="1.2" fill="none"/>
<path d="M528.50,241.96 h2.4 M528.50,268.67 h2.4" stroke="#aaaaaa" stroke-width="1" fill="none"/>
<path d="M537.40,246.36 V273.07" stroke="#c8c8c8" stroke-width="1.2" fill="none"/>
<path d="M536.20,246.36 h2.4 M536.20,273.07 h2.4" stroke="#aaaaaa" stroke-width="1" fill="none"/>
<path d="M545.00,253.16 V279.87" stroke="#c8c8c8" stroke-width="1.2" fill="none"/>
<path d="M543.80,253.16 h2.4 M543.80,279.87 h2.4" stroke="#aaaaaa" stroke-width="1" fill="none"/>
<path d="M552.40,257.06 V283.77" stroke="#c8c8c8" stroke-width="1.2" fill="none"/>
<path d="M551.20,257.06 h2.4 M551.20,283.77 h2.4" stroke="#aaaaaa" stroke-width="1" fill="none"/>
<path d="M560.20,263.86 V290.57" stroke="#c8c8c8" stroke-width="1.2" fill="none"/>
<path d="M559.00,263.86 h2.4 M559.00,290.57 h2.4" stroke="#aaaaaa" stroke-width="1" fill="none"/>
<path d="M568.00,264.86 V291.57" stroke="#c8c8c8" stroke-width="1.2" fill="none"/>
<path d="M566.80,264.86 h2.4 M566.80,291.57 h2.4" stroke="#aaaaaa" stroke-width="1" fill="none"/>
<path d="M575.50,268.76 V295.47" stroke="#c8c8c8" stroke-width="1.2" fill="none"/>
<path d="M574.30,268.76 h2.4 M574.30,295.47 h2.4" stroke="#aaaaaa" stroke-width="1" fill="none"/>
<path d="M583.00,277.46 V304.17" stroke="#c8c8c8" stroke-width="1.2" fill="none"/>
<path d="M581.80,277.46 h2.4 M581.80,304.17 h2.4" stroke="#aaaaaa" stroke-width="1" fill="none"/>
<path d="M590.80,281.46 V308.17" stroke="#c8c8c8" stroke-width="1.2" fill="none"/>
<path d="M589.60,281.46 h2.4 M589.60,308.17 h2.4" stroke="#aaaaaa" stroke-width="1" fill="none"/>
<path d="M334.00,114.13 L335.00,113.01 L336.00,111.89 L337.00,110.78 L338.00,109.69 L339.00,108.61 L340.00,107.55 L341.00,106.52 L342.00,105.52 L343.00,104.56 L344.00,103.63 L345.00,102.74 L346.00,101.89 L347.00,101.09 L348.00,100.33 L349.00,99.63 L350.00,98.99 L351.00,98.40 L352.00,97.87 L353.00,97.41 L354.00,97.01 L355.00,96.68 L356.00,96.41 L357.00,96.20 L358.00,96.05 L359.00,95.96 L360.00,95.92 L361.00,95.93 L362.00,96.00 L363.00,96.11 L364.00,96.27 L365.00,96.48 L366.00,96.73 L367.00,97.01 L368.00,97.34 L369.00,97.70 L370.00,98.10 L371.00,98.53 L372.00,98.99 L373.00,99.48 L374.00,100.00 L375.00,100.54 L376.00,101.12 L377.00,101.71 L378.00,102.34 L379.00,102.98 L380.00,103.65 L381.00,104.34 L382.00,105.05 L383.00,105.78 L384.00,106.53 L385.00,107.30 L386.00,108.08 L387.00,108.89 L388.00,109.70 L389.00,110.53 L390.00,111.38 L391.00,112.24 L392.00,113.10 L393.00,113.98 L394.00,114.87 L395.00,115.77 L396.00,116.68 L397.00,117.59 L398.00,118.51 L399.00,119.43 L400.00,120.36 L401.00,121.29 L402.00,122.23 L403.00,123.16 L404.00,124.10 L405.00,125.04 L406.00,125.98 L407.00,126.93 L408.00,127.87 L409.00,128.82 L410.00,129.77 L411.00,130.72 L412.00,131.67 L413.00,132.62 L414.00,133.57 L415.00,134.53 L416.00,135.48 L417.00,136.44 L418.00,137.40 L419.00,138.36 L420.00,139.32 L421.00,140.27 L422.00,141.23 L423.00,142.20 L424.00,143.16 L425.00,144.12 L426.00,145.08 L427.00,146.04 L428.00,147.00 L429.00,147.96 L430.00,148.93 L431.00,149.89 L432.00,150.85 L433.00,151.81 L434.00,152.77 L435.00,153.73 L436.00,154.69 L437.00,155.65 L438.00,156.61 L439.00,157.57 L440.00,158.52 L441.00,159.48 L442.00,160.43 L443.00,161.39 L444.00,162.34 L445.00,163.29 L446.00,164.24 L447.00,165.19 L448.00,166.14 L449.00,167.09 L450.00,168.03 L451.00,168.97 L452.00,169.91 L453.00,170.85 L454.00,171.79 L455.00,172.73 L456.00,173.66 L457.00,174.59 L458.00,175.52 L459.00,176.45 L460.00,177.37 L461.00,178.29 L462.00,179.21 L463.00,180.13 L464.00,181.04 L465.00,181.95 L466.00,182.86 L467.00,183.77 L468.00,184.67 L469.00,185.58 L470.00,186.47 L471.00,187.37 L472.00,188.27 L473.00,189.16 L474.00,190.05 L475.00,190.93 L476.00,191.82 L477.00,192.70 L478.00,193.58 L479.00,194.45 L480.00,195.33 L481.00,196.20 L482.00,197.07 L483.00,197.93 L484.00,198.80 L485.00,199.66 L486.00,200.52 L487.00,201.38 L488.00,202.23 L489.00,203.08 L490.00,203.93 L491.00,204.78 L492.00,205.62 L493.00,206.47 L494.00,207.30 L495.00,208.14 L496.00,208.98 L497.00,209.81 L498.00,210.64 L499.00,211.47 L500.00,212.29 L501.00,213.11 L502.00,213.93 L503.00,214.75 L504.00,215.57 L505.00,216.38 L506.00,217.19 L507.00,218.00 L508.00,218.80 L509.00,219.61 L510.00,220.41 L511.00,221.21 L512.00,222.00 L513.00,222.80 L514.00,223.59 L515.00,224.38 L516.00,225.16 L517.00,225.95 L518.00,226.73 L519.00,227.51 L520.00,228.29 L521.00,229.06 L522.00,229.83 L523.00,230.60 L524.00,231.37 L525.00,232.14 L526.00,232.90 L527.00,233.66 L528.00,234.42 L529.00,235.17 L530.00,235.93 L531.00,236.68 L532.00,237.43 L533.00,238.17 L534.00,238.92 L535.00,239.66 L536.00,240.40 L537.00,241.14 L538.00,241.87 L539.00,242.61 L540.00,243.34 L541.00,244.06 L542.00,244.79 L543.00,245.51 L544.00,246.24 L545.00,246.95 L546.00,247.67 L547.00,248.39 L548.00,249.10 L549.00,249.81 L550.00,250.52 L551.00,251.22 L552.00,251.92 L553.00,252.63 L554.00,253.32 L555.00,254.02 L556.00,254.72 L557.00,255.41 L558.00,256.10 L559.00,256.78 L560.00,257.47 L561.00,258.15 L562.00,258.83 L563.00,259.51 L564.00,260.19 L565.00,260.86 L566.00,261.53 L567.00,262.20 L568.00,262.87 L569.00,263.54 L570.00,264.20 L571.00,264.86 L572.00,265.52 L573.00,266.18 L574.00,266.83 L575.00,267.48 L576.00,268.13 L577.00,268.78 L578.00,269.43 L579.00,270.07 L580.00,270.71 L581.00,271.35 L582.00,271.99 L583.00,272.62 L584.00,273.25 L585.00,273.88 L586.00,274.51 L587.00,275.14 L588.00,275.76 L589.00,276.38 L590.00,277.00 L591.00,277.62 L592.00,278.24 L593.00,278.85" fill="none" stroke="#d06a48" stroke-width="1.0" stroke-dasharray="3.3 3.0"/>
<path d="M333.20,143.44 L334.20,142.66 L335.20,141.87 L336.20,141.06 L337.20,140.24 L338.20,139.41 L339.20,138.58 L340.20,137.75 L341.20,136.92 L342.20,136.09 L343.20,135.27 L344.20,134.47 L345.20,133.68 L346.20,132.91 L347.20,132.15 L348.20,131.43 L349.20,130.73 L350.20,130.06 L351.20,129.42 L352.20,128.82 L353.20,128.26 L354.20,127.73 L355.20,127.25 L356.20,126.81 L357.20,126.40 L358.20,126.04 L359.20,125.73 L360.20,125.46 L361.20,125.24 L362.20,125.07 L363.20,124.94 L364.20,124.87 L365.20,124.85 L366.20,124.87 L367.20,124.94 L368.20,125.06 L369.20,125.22 L370.20,125.41 L371.20,125.65 L372.20,125.92 L373.20,126.23 L374.20,126.56 L375.20,126.93 L376.20,127.32 L377.20,127.74 L378.20,128.19 L379.20,128.65 L380.20,129.13 L381.20,129.63 L382.20,130.15 L383.20,130.68 L384.20,131.22 L385.20,131.76 L386.20,132.32 L387.20,132.89 L388.20,133.46 L389.20,134.04 L390.20,134.64 L391.20,135.24 L392.20,135.84 L393.20,136.46 L394.20,137.08 L395.20,137.71 L396.20,138.35 L397.20,139.00 L398.20,139.65 L399.20,140.31 L400.20,140.97 L401.20,141.65 L402.20,142.33 L403.20,143.01 L404.20,143.70 L405.20,144.40 L406.20,145.10 L407.20,145.81 L408.20,146.53 L409.20,147.25 L410.20,147.97 L411.20,148.70 L412.20,149.44 L413.20,150.18 L414.20,150.92 L415.20,151.67 L416.20,152.42 L417.20,153.18 L418.20,153.94 L419.20,154.70 L420.20,155.47 L421.20,156.24 L422.20,157.01 L423.20,157.79 L424.20,158.57 L425.20,159.35 L426.20,160.14 L427.20,160.93 L428.20,161.72 L429.20,162.51 L430.20,163.30 L431.20,164.10 L432.20,164.90 L433.20,165.70 L434.20,166.50 L435.20,167.30 L436.20,168.10 L437.20,168.91 L438.20,169.71 L439.20,170.52 L440.20,171.32 L441.20,172.13 L442.20,172.93 L443.20,173.74 L444.20,174.54 L445.20,175.35 L446.20,176.15 L447.20,176.95 L448.20,177.76 L449.20,178.56 L450.20,179.36 L451.20,180.16 L452.20,180.95 L453.20,181.75 L454.20,182.54 L455.20,183.33 L456.20,184.12 L457.20,184.91 L458.20,185.70 L459.20,186.48 L460.20,187.27 L461.20,188.05 L462.20,188.83 L463.20,189.61 L464.20,190.38 L465.20,191.16 L466.20,191.93 L467.20,192.70 L468.20,193.47 L469.20,194.24 L470.20,195.00 L471.20,195.77 L472.20,196.53 L473.20,197.29 L474.20,198.05 L475.20,198.81 L476.20,199.57 L477.20,200.32 L478.20,201.07 L479.20,201.83 L480.20,202.58 L481.20,203.32 L482.20,204.07 L483.20,204.82 L484.20,205.56 L485.20,206.30 L486.20,207.04 L487.20,207.78 L488.20,208.52 L489.20,209.26 L490.20,209.99 L491.20,210.72 L492.20,211.46 L493.20,212.19 L494.20,212.92 L495.20,213.64 L496.20,214.37 L497.20,215.09 L498.20,215.82 L499.20,216.54 L500.20,217.26 L501.20,217.98 L502.20,218.69 L503.20,219.41 L504.20,220.13 L505.20,220.84 L506.20,221.55 L507.20,222.26 L508.20,222.97 L509.20,223.68 L510.20,224.38 L511.20,225.09 L512.20,225.79 L513.20,226.50 L514.20,227.20 L515.20,227.90 L516.20,228.60 L517.20,229.29 L518.20,229.99 L519.20,230.68 L520.20,231.38 L521.20,232.07 L522.20,232.76 L523.20,233.45 L524.20,234.14 L525.20,234.83 L526.20,235.51 L527.20,236.20 L528.20,236.88 L529.20,237.57 L530.20,238.25 L531.20,238.93 L532.20,239.61 L533.20,240.29 L534.20,240.96 L535.20,241.64 L536.20,242.31 L537.20,242.99 L538.20,243.66 L539.20,244.33 L540.20,245.00 L541.20,245.67 L542.20,246.34 L543.20,247.01 L544.20,247.67 L545.20,248.34 L546.20,249.00 L547.20,249.66 L548.20,250.33 L549.20,250.99 L550.20,251.65 L551.20,252.31 L552.20,252.96 L553.20,253.62 L554.20,254.28 L555.20,254.93 L556.20,255.59 L557.20,256.24 L558.20,256.89 L559.20,257.54 L560.20,258.19 L561.20,258.84 L562.20,259.49 L563.20,260.14 L564.20,260.78 L565.20,261.43 L566.20,262.08 L567.20,262.72 L568.20,263.36 L569.20,264.01 L570.20,264.65 L571.20,265.29 L572.20,265.93 L573.20,266.57 L574.20,267.20 L575.20,267.84 L576.20,268.48 L577.20,269.11 L578.20,269.75 L579.20,270.38 L580.20,271.02 L581.20,271.65 L582.20,272.28 L583.20,272.91 L584.20,273.54 L585.20,274.17 L586.20,274.80 L587.20,275.43 L588.20,276.06 L589.20,276.68 L590.20,277.31 L591.20,277.94 L592.20,278.56 L593.00,279.06" fill="none" stroke="#4a6db0" stroke-width="1.0" stroke-dasharray="3.4 1.3 0.9 1.5"/>
<path d="M330.50,90.05 L332.70,94.15 M332.70,90.05 L330.50,94.15" stroke="#111" stroke-width="1.4" fill="none"/>
<path d="M338.10,73.85 L340.30,77.95 M340.30,73.85 L338.10,77.95" stroke="#111" stroke-width="1.4" fill="none"/>
<path d="M345.70,78.55 L347.90,82.65 M347.90,78.55 L345.70,82.65" stroke="#111" stroke-width="1.4" fill="none"/>
<path d="M353.40,85.25 L355.60,89.35 M355.60,85.25 L353.40,89.35" stroke="#111" stroke-width="1.4" fill="none"/>
<path d="M360.90,99.15 L363.10,103.25 M363.10,99.15 L360.90,103.25" stroke="#111" stroke-width="1.4" fill="none"/>
<path d="M368.50,102.15 L370.70,106.25 M370.70,102.15 L368.50,106.25" stroke="#111" stroke-width="1.4" fill="none"/>
<path d="M376.00,111.15 L378.20,115.25 M378.20,111.15 L376.00,115.25" stroke="#111" stroke-width="1.4" fill="none"/>
<path d="M383.70,119.75 L385.90,123.85 M385.90,119.75 L383.70,123.85" stroke="#111" stroke-width="1.4" fill="none"/>
<path d="M391.40,128.45 L393.60,132.55 M393.60,128.45 L391.40,132.55" stroke="#111" stroke-width="1.4" fill="none"/>
<path d="M399.00,136.75 L401.20,140.85 M401.20,136.75 L399.00,140.85" stroke="#111" stroke-width="1.4" fill="none"/>
<path d="M406.50,144.65 L408.70,148.75 M408.70,144.65 L406.50,148.75" stroke="#111" stroke-width="1.4" fill="none"/>
<path d="M414.20,152.95 L416.40,157.05 M416.40,152.95 L414.20,157.05" stroke="#111" stroke-width="1.4" fill="none"/>
<path d="M421.90,161.25 L424.10,165.35 M424.10,161.25 L421.90,165.35" stroke="#111" stroke-width="1.4" fill="none"/>
<path d="M429.40,169.95 L431.60,174.05 M431.60,169.95 L429.40,174.05" stroke="#111" stroke-width="1.4" fill="none"/>
<path d="M437.20,177.95 L439.40,182.05 M439.40,177.95 L437.20,182.05" stroke="#111" stroke-width="1.4" fill="none"/>
<path d="M444.70,184.65 L446.90,188.75 M446.90,184.65 L444.70,188.75" stroke="#111" stroke-width="1.4" fill="none"/>
<path d="M452.20,192.95 L454.40,197.05 M454.40,192.95 L452.20,197.05" stroke="#111" stroke-width="1.4" fill="none"/>
<path d="M459.70,205.45 L461.90,209.55 M461.90,205.45 L459.70,209.55" stroke="#111" stroke-width="1.4" fill="none"/>
<path d="M467.60,207.45 L469.80,211.55 M469.80,207.45 L467.60,211.55" stroke="#111" stroke-width="1.4" fill="none"/>
<path d="M475.10,210.95 L477.30,215.05 M477.30,210.95 L475.10,215.05" stroke="#111" stroke-width="1.4" fill="none"/>
<path d="M482.90,217.65 L485.10,221.75 M485.10,217.65 L482.90,221.75" stroke="#111" stroke-width="1.4" fill="none"/>
<path d="M490.60,225.25 L492.80,229.35 M492.80,225.25 L490.60,229.35" stroke="#111" stroke-width="1.4" fill="none"/>
<path d="M498.10,232.15 L500.30,236.25 M500.30,232.15 L498.10,236.25" stroke="#111" stroke-width="1.4" fill="none"/>
<path d="M505.60,238.25 L507.80,242.35 M507.80,238.25 L505.60,242.35" stroke="#111" stroke-width="1.4" fill="none"/>
<path d="M513.40,242.95 L515.60,247.05 M515.60,242.95 L513.40,247.05" stroke="#111" stroke-width="1.4" fill="none"/>
<path d="M520.90,250.15 L523.10,254.25 M523.10,250.15 L520.90,254.25" stroke="#111" stroke-width="1.4" fill="none"/>
<path d="M528.60,251.75 L530.80,255.85 M530.80,251.75 L528.60,255.85" stroke="#111" stroke-width="1.4" fill="none"/>
<path d="M536.30,256.15 L538.50,260.25 M538.50,256.15 L536.30,260.25" stroke="#111" stroke-width="1.4" fill="none"/>
<path d="M543.90,262.95 L546.10,267.05 M546.10,262.95 L543.90,267.05" stroke="#111" stroke-width="1.4" fill="none"/>
<path d="M551.30,266.85 L553.50,270.95 M553.50,266.85 L551.30,270.95" stroke="#111" stroke-width="1.4" fill="none"/>
<path d="M559.10,273.65 L561.30,277.75 M561.30,273.65 L559.10,277.75" stroke="#111" stroke-width="1.4" fill="none"/>
<path d="M566.90,274.65 L569.10,278.75 M569.10,274.65 L566.90,278.75" stroke="#111" stroke-width="1.4" fill="none"/>
<path d="M574.40,278.55 L576.60,282.65 M576.60,278.55 L574.40,282.65" stroke="#111" stroke-width="1.4" fill="none"/>
<path d="M581.90,287.25 L584.10,291.35 M584.10,287.25 L581.90,291.35" stroke="#111" stroke-width="1.4" fill="none"/>
<path d="M589.70,291.25 L591.90,295.35 M591.90,291.25 L589.70,295.35" stroke="#111" stroke-width="1.4" fill="none"/>
<rect x="326.5" y="16.5" width="266.5" height="309.9" fill="none" stroke="#686868" stroke-width="1.4"/>
<path d="M326.50,326.4 v-6 M326.50,16.5 v6 M334.11,326.4 v-3 M334.11,16.5 v3 M341.73,326.4 v-3 M341.73,16.5 v3 M349.34,326.4 v-3 M349.34,16.5 v3 M356.96,326.4 v-3 M356.96,16.5 v3 M364.57,326.4 v-6 M364.57,16.5 v6 M372.19,326.4 v-3 M372.19,16.5 v3 M379.80,326.4 v-3 M379.80,16.5 v3 M387.41,326.4 v-3 M387.41,16.5 v3 M395.03,326.4 v-3 M395.03,16.5 v3 M402.64,326.4 v-6 M402.64,16.5 v6 M410.26,326.4 v-3 M410.26,16.5 v3 M417.87,326.4 v-3 M417.87,16.5 v3 M425.49,326.4 v-3 M425.49,16.5 v3 M433.10,326.4 v-3 M433.10,16.5 v3 M440.71,326.4 v-6 M440.71,16.5 v6 M448.33,326.4 v-3 M448.33,16.5 v3 M455.94,326.4 v-3 M455.94,16.5 v3 M463.56,326.4 v-3 M463.56,16.5 v3 M471.17,326.4 v-3 M471.17,16.5 v3 M478.79,326.4 v-6 M478.79,16.5 v6 M486.40,326.4 v-3 M486.40,16.5 v3 M494.01,326.4 v-3 M494.01,16.5 v3 M501.63,326.4 v-3 M501.63,16.5 v3 M509.24,326.4 v-3 M509.24,16.5 v3 M516.86,326.4 v-6 M516.86,16.5 v6 M524.47,326.4 v-3 M524.47,16.5 v3 M532.09,326.4 v-3 M532.09,16.5 v3 M539.70,326.4 v-3 M539.70,16.5 v3 M547.31,326.4 v-3 M547.31,16.5 v3 M554.93,326.4 v-6 M554.93,16.5 v6 M562.54,326.4 v-3 M562.54,16.5 v3 M570.16,326.4 v-3 M570.16,16.5 v3 M577.77,326.4 v-3 M577.77,16.5 v3 M585.39,326.4 v-3 M585.39,16.5 v3 M593.00,326.4 v-6 M593.00,16.5 v6 M326.5,326.03 h3 M593.0,326.03 h-3 M326.5,315.39 h3 M593.0,315.39 h-3 M326.5,306.40 h3 M593.0,306.40 h-3 M326.5,298.62 h3 M593.0,298.62 h-3 M326.5,291.75 h3 M593.0,291.75 h-3 M326.5,285.60 h6 M593.0,285.60 h-6 M326.5,245.17 h3 M593.0,245.17 h-3 M326.5,221.52 h3 M593.0,221.52 h-3 M326.5,204.74 h3 M593.0,204.74 h-3 M326.5,191.73 h3 M593.0,191.73 h-3 M326.5,181.09 h3 M593.0,181.09 h-3 M326.5,172.10 h3 M593.0,172.10 h-3 M326.5,164.32 h3 M593.0,164.32 h-3 M326.5,157.45 h3 M593.0,157.45 h-3 M326.5,151.30 h6 M593.0,151.30 h-6 M326.5,110.87 h3 M593.0,110.87 h-3 M326.5,87.22 h3 M593.0,87.22 h-3 M326.5,70.44 h3 M593.0,70.44 h-3 M326.5,57.43 h3 M593.0,57.43 h-3 M326.5,46.79 h3 M593.0,46.79 h-3 M326.5,37.80 h3 M593.0,37.80 h-3 M326.5,30.02 h3 M593.0,30.02 h-3 M326.5,23.15 h3 M593.0,23.15 h-3 M326.5,17.00 h6 M593.0,17.00 h-6" stroke="#686868" stroke-width="1.4" fill="none"/>
<path d="M321.05,334.90 V342.70 M321.05,335.10 L319.75,336.40" stroke="#333" stroke-width="1.0" fill="none"/><rect x="322.85" y="341.40" width="1.2" height="1.3" fill="#333"/><text transform="translate(325.23,342.70) scale(0.7301,1)" class="tl" style="font-size:11.175px;">0</text><text transform="translate(329.53,342.70) scale(0.7301,1)" class="tl" style="font-size:11.175px;">0</text>
<path d="M359.12,334.90 V342.70 M359.12,335.10 L357.82,336.40" stroke="#333" stroke-width="1.0" fill="none"/><rect x="360.92" y="341.40" width="1.2" height="1.3" fill="#333"/><text transform="translate(363.30,342.70) scale(0.7301,1)" class="tl" style="font-size:11.175px;">0</text><text transform="translate(367.59,342.70) scale(0.7361,1)" class="tl" style="font-size:11.175px;">5</text>
<path d="M397.19,334.90 V342.70 M397.19,335.10 L395.89,336.40" stroke="#333" stroke-width="1.0" fill="none"/><rect x="398.99" y="341.40" width="1.2" height="1.3" fill="#333"/><path d="M402.89,334.90 V342.70 M402.89,335.10 L401.59,336.40" stroke="#333" stroke-width="1.0" fill="none"/><text transform="translate(404.97,342.70) scale(0.7301,1)" class="tl" style="font-size:11.175px;">0</text>
<path d="M435.26,334.90 V342.70 M435.26,335.10 L433.96,336.40" stroke="#333" stroke-width="1.0" fill="none"/><rect x="437.06" y="341.40" width="1.2" height="1.3" fill="#333"/><path d="M440.96,334.90 V342.70 M440.96,335.10 L439.66,336.40" stroke="#333" stroke-width="1.0" fill="none"/><text transform="translate(443.03,342.70) scale(0.7361,1)" class="tl" style="font-size:11.175px;">5</text>
<path d="M473.34,334.90 V342.70 M473.34,335.10 L472.04,336.40" stroke="#333" stroke-width="1.0" fill="none"/><rect x="475.14" y="341.40" width="1.2" height="1.3" fill="#333"/><text transform="translate(477.41,342.70) scale(0.7661,1)" class="tl" style="font-size:11.175px;">2</text><text transform="translate(481.82,342.70) scale(0.7301,1)" class="tl" style="font-size:11.175px;">0</text>
<path d="M511.41,334.90 V342.70 M511.41,335.10 L510.11,336.40" stroke="#333" stroke-width="1.0" fill="none"/><rect x="513.21" y="341.40" width="1.2" height="1.3" fill="#333"/><text transform="translate(515.48,342.70) scale(0.7661,1)" class="tl" style="font-size:11.175px;">2</text><text transform="translate(519.88,342.70) scale(0.7361,1)" class="tl" style="font-size:11.175px;">5</text>
<path d="M549.48,334.90 V342.70 M549.48,335.10 L548.18,336.40" stroke="#333" stroke-width="1.0" fill="none"/><rect x="551.28" y="341.40" width="1.2" height="1.3" fill="#333"/><text transform="translate(553.67,342.70) scale(0.7361,1)" class="tl" style="font-size:11.175px;">3</text><text transform="translate(557.96,342.70) scale(0.7301,1)" class="tl" style="font-size:11.175px;">0</text>
<path d="M587.55,334.90 V342.70 M587.55,335.10 L586.25,336.40" stroke="#333" stroke-width="1.0" fill="none"/><rect x="589.35" y="341.40" width="1.2" height="1.3" fill="#333"/><text transform="translate(591.74,342.70) scale(0.7361,1)" class="tl" style="font-size:11.175px;">3</text><text transform="translate(596.02,342.70) scale(0.7361,1)" class="tl" style="font-size:11.175px;">5</text>
<path d="M322.00,282.10 V289.90 M322.00,282.30 L320.70,283.60" stroke="#333" stroke-width="1.0" fill="none"/>
<path d="M317.50,147.80 V155.60 M317.50,148.00 L316.20,149.30" stroke="#333" stroke-width="1.0" fill="none"/><text transform="translate(319.58,155.60) scale(0.7301,1)" class="tl" style="font-size:11.175px;">0</text>
<path d="M313.20,16.70 V24.50 M313.20,16.90 L311.90,18.20" stroke="#333" stroke-width="1.0" fill="none"/><text transform="translate(315.28,24.50) scale(0.7301,1)" class="tl" style="font-size:11.175px;">0</text><text transform="translate(319.58,24.50) scale(0.7301,1)" class="tl" style="font-size:11.175px;">0</text>
<text transform="translate(429.05,10.40) scale(0.5703,1)" class="tt" style="font-size:13.953px;letter-spacing:1.263px;">Fe</text>
<text transform="translate(443.34,10.40) scale(0.5163,1)" class="tt" style="font-size:13.953px;letter-spacing:1.007px;">XI</text>
<path d="M457.75,0.80 V10.40 M457.75,1.00 L456.25,2.60" stroke="#333" stroke-width="1.0" fill="none"/><text transform="translate(460.30,10.40) scale(0.6663,1)" class="tt" style="font-size:13.754px;">8</text><text transform="translate(465.70,10.40) scale(0.6663,1)" class="tt" style="font-size:13.754px;">8</text><rect x="471.50" y="8.90" width="1.2" height="1.2" fill="#333"/><text transform="translate(473.33,10.40) scale(0.6863,1)" class="tt" style="font-size:13.754px;">2</text><path d="M481.65,0.80 V10.40 M481.65,1.00 L480.15,2.60" stroke="#333" stroke-width="1.0" fill="none"/><text transform="translate(484.12,10.40) scale(0.6878,1)" class="tt" style="font-size:13.754px;">7</text>
<text transform="translate(434.51,356.60) scale(0.6270,1)" class="xl" style="font-size:11.483px;">Distance</text>
<text transform="translate(465.34,357.60) scale(0.6604,1)" class="xl" style="font-size:13.706px;">(</text>
<text transform="translate(468.63,356.60) scale(0.6014,1)" class="xl" style="font-size:11.483px;">R</text>
<text transform="translate(472.57,362.00) scale(0.5214,1)" class="yls" style="font-size:9.884px;">Sun</text>
<text transform="translate(481.65,357.60) scale(0.5779,1)" class="xl" style="font-size:13.706px;">)</text>
<line x1="478.4" y1="57.4" x2="509.6" y2="57.4" stroke="#4a6db0" stroke-width="1.0" stroke-dasharray="3.4 1.3 0.9 1.5"/>
<line x1="478.4" y1="70.2" x2="507.6" y2="70.2" stroke="#d06a48" stroke-width="1.0" stroke-dasharray="3.3 3.0"/>
<text transform="translate(531.65,58.10) scale(0.5230,1)" class="lg" style="font-size:10.465px;fill:#2f5fb5;stroke:#2f5fb5;letter-spacing:0.886px;">Equilibrium</text>
<text transform="translate(532.08,70.60) scale(0.5085,1)" class="lg" style="font-size:10.174px;fill:#cf5429;stroke:#cf5429;letter-spacing:1.039px;">Wind Model</text>
<line x1="300.70" y1="162.90" x2="300.70" y2="159.60" stroke="#333" stroke-width="0.9"/>
<line x1="300.70" y1="140.80" x2="300.70" y2="136.70" stroke="#333" stroke-width="0.9"/>
<line x1="300.70" y1="87.40" x2="300.70" y2="83.70" stroke="#333" stroke-width="0.9"/>
<g transform="translate(305.80,0) rotate(-90)"><text transform="translate(-270.85,0.00) scale(1.5000,1)" class="yl" style="font-size:6.831px;letter-spacing:0.734px;">Intensity</text><text transform="translate(-218.27,-0.40) scale(1.7145,1)" class="yl" style="font-size:8.140px;">(</text><text transform="translate(-212.64,0.00) scale(1.5000,1)" class="yl" style="font-size:6.831px;letter-spacing:0.919px;">Phot</text><text transform="translate(-181.24,0.00) scale(1.5000,1)" class="yl" style="font-size:6.831px;letter-spacing:2.168px;">cm</text><text transform="translate(-157.47,-3.70) scale(1.6864,1)" class="yls" style="font-size:4.360px;">2</text><text transform="translate(-147.82,0.00) scale(1.6786,1)" class="yl" style="font-size:6.831px;">s</text><text transform="translate(-134.70,-3.70) scale(0.9042,1)" class="yls" style="font-size:4.360px;">1</text><text transform="translate(-124.64,0.00) scale(1.5000,1)" class="yl" style="font-size:6.831px;letter-spacing:0.763px;">arcsec</text><text transform="translate(-81.93,-3.70) scale(1.5102,1)" class="yls" style="font-size:4.360px;">2</text><text transform="translate(-77.28,-0.40) scale(1.6681,1)" class="yl" style="font-size:8.140px;">)</text></g>
</svg>
</body></html>
